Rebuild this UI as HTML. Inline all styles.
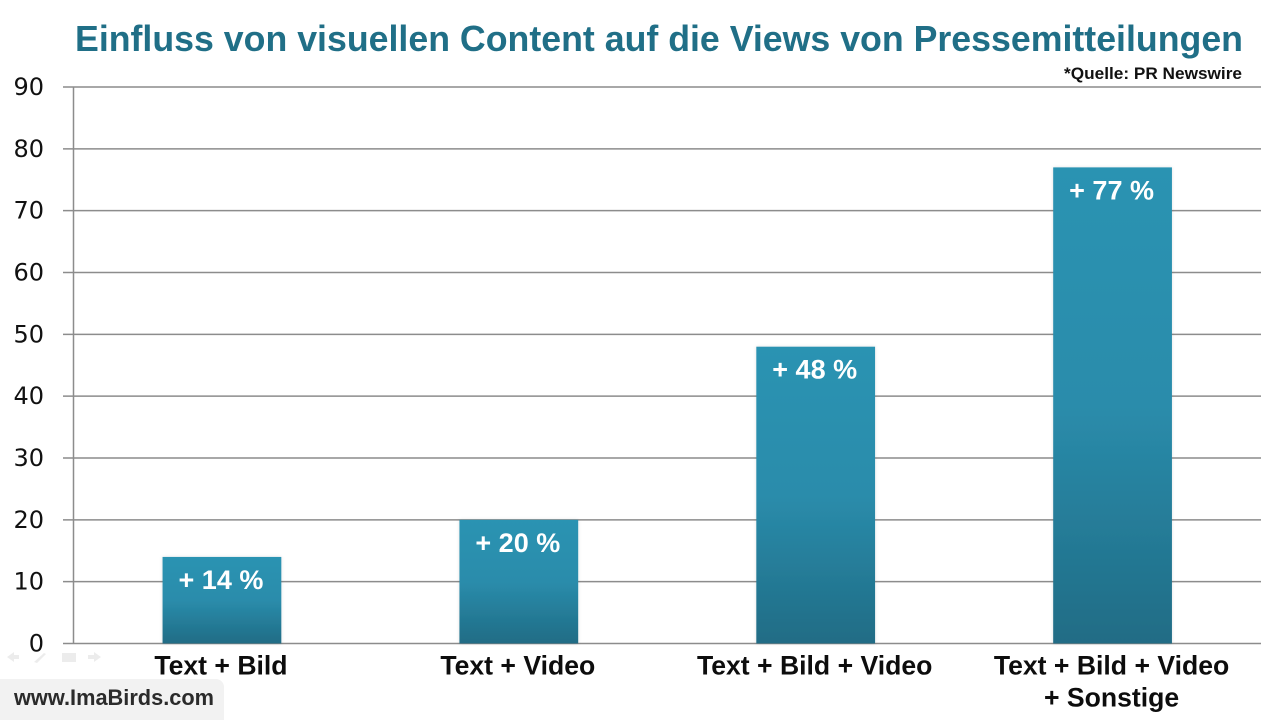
<!DOCTYPE html>
<html lang="de">
<head>
<meta charset="utf-8">
<title>Einfluss von visuellen Content</title>
<style>
html,body{margin:0;padding:0;background:#fff;width:1280px;height:720px;overflow:hidden}
svg{display:block}
text{font-family:"Liberation Sans",sans-serif}
</style>
</head>
<body>
<svg id="chart" width="1280" height="720" viewBox="0 0 1280 720" xmlns="http://www.w3.org/2000/svg">
<defs>
<linearGradient id="barGrad" x1="0" y1="0" x2="0" y2="1">
<stop offset="0" stop-color="#2c93b2"/>
<stop offset="0.5" stop-color="#2a8cab"/>
<stop offset="1" stop-color="#206c85"/>
</linearGradient>
<filter id="barShadow" x="-10%" y="-5%" width="120%" height="110%">
<feDropShadow dx="0" dy="0" stdDeviation="1.5" flood-color="#000" flood-opacity="0.12"/>
</filter>
</defs>
<rect x="0" y="0" width="1280" height="720" fill="#ffffff"/>
<text x="75" y="51" font-size="36" font-weight="700" fill="#206f87" textLength="1168" lengthAdjust="spacingAndGlyphs">Einfluss von visuellen Content auf die Views von Pressemitteilungen</text>
<text x="1064" y="79" font-size="17" font-weight="700" fill="#111" textLength="178" lengthAdjust="spacingAndGlyphs">*Quelle: PR Newswire</text>
<g id="grid"></g>
<g id="bars"></g>
<g id="labels"></g>
<g id="yticks"></g>
<g id="xticks"></g>
<g opacity="0.13" fill="#777">
<path d="M7 657l7-5v3h5v4h-5v3z"/>
<path d="M34 662l10-9 2 1-9 9z"/>
<rect x="62" y="653" width="14" height="9"/>
<path d="M101 657l-7-5v3h-6v4h6v3z"/>
</g>
<rect x="-8" y="679" width="232" height="50" rx="8" fill="#f2f2f2"/>
<text x="14" y="705" font-size="22" font-weight="700" fill="#2b2b2b" textLength="200" lengthAdjust="spacingAndGlyphs">www.ImaBirds.com</text>
</svg>
<script>
const categories = [["Text + Bild"], ["Text + Video"], ["Text + Bild + Video"], ["Text + Bild + Video", "+ Sonstige"]];
const values = [14, 20, 48, 77];
const yTicks = [0, 10, 20, 30, 40, 50, 60, 70, 80, 90];

const NS = "http://www.w3.org/2000/svg";
const plot = { left: 73.5, right: 1261, top: 87, bottom: 643.5 };
const yMax = 90;
const yScale = v => plot.bottom - (v / yMax) * (plot.bottom - plot.top);
const bandWidth = (plot.right - plot.left) / categories.length;
const xCenter = i => plot.left + bandWidth * (i + 0.5);
const barWidth = bandWidth * 0.4;

function make(tag, attrs, parent, text) {
  const el = document.createElementNS(NS, tag);
  for (const k in attrs) el.setAttribute(k, attrs[k]);
  if (text !== undefined) el.textContent = text;
  parent.appendChild(el);
  return el;
}

const gridG = document.getElementById("grid");
const yG = document.getElementById("yticks");
yTicks.forEach(t => {
  const y = yScale(t);
  const line = make("line", { x1: 63, x2: plot.right, y1: y, y2: y, stroke: "#8c8c8c", "stroke-width": 1.5 }, gridG);
  
  
  const label = make("text", { x: 44, y: y + 8, "text-anchor": "end", "font-size": 24, fill: "#111" }, yG, String(t));
  label.style.fontFamily = '"DejaVu Sans",sans-serif';
  
  
});
const yAxis = make("line", { x1: plot.left, x2: plot.left, y1: plot.top, y2: plot.bottom, stroke: "#8c8c8c", "stroke-width": 1.5 }, gridG);



const barsG = document.getElementById("bars");
const labelsG = document.getElementById("labels");
const xG = document.getElementById("xticks");
values.forEach((v, i) => {
  const cx = xCenter(i);
  const top = yScale(v);
  const bar = make("rect", { x: cx - barWidth / 2, y: top, width: barWidth, height: plot.bottom - top, fill: "url(#barGrad)", filter: "url(#barShadow)" }, barsG);
  
  
  const valueLabel = make("text", { x: cx - 1, y: top + 32, "text-anchor": "middle", "font-size": 27, "font-weight": 700, fill: "#ffffff" }, labelsG, "+ " + v + " %");
  
  
});
categories.forEach((lines, i) => {
  lines.forEach((line, j) => {
    const catLabel = make("text", { x: xCenter(i) - 1, y: plot.bottom + 31 + j * 32, "text-anchor": "middle", "font-size": 26.6, "font-weight": 700, fill: "#0d0d0d" }, xG, line);
    
    
  });
});
</script>
</body>
</html>
